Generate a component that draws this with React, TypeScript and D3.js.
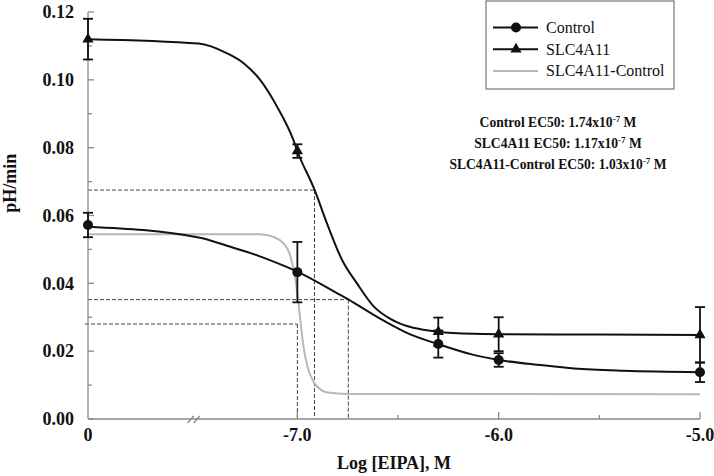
import React from "react";
import * as d3 from "d3";

// ---- data ----
const ZERO_POS = -8.04; // where the "0" concentration sits on the broken log axis
const pointLogs = [ZERO_POS, -7.0, -6.3, -6.0, -5.0];
const controlMean = [0.0572, 0.0433, 0.0221, 0.0174, 0.0138];
const controlErr = [0.0036, 0.0089, 0.004, 0.002, 0.0029];
const slcMean = [0.112, 0.079, 0.0257, 0.025, 0.0248];
const slcErr = [0.006, 0.002, 0.0042, 0.005, 0.0082];

const slcCurveX = [ZERO_POS, -7.49, -7.349, -7.267, -7.184, -7.101, -7.02, -6.999, -6.914, -6.853, -6.778, -6.704, -6.621, -6.538, -6.456, -6.373, -6.302, -6.125, -6.0, -5.5, -5.0];
const slcCurveY = [0.112, 0.1107, 0.1078, 0.1049, 0.0999, 0.0921, 0.0823, 0.0788, 0.0675, 0.0577, 0.0469, 0.040, 0.0332, 0.0295, 0.0274, 0.0263, 0.0257, 0.0251, 0.025, 0.0249, 0.0248];

const ctlCurveX = [ZERO_POS, -7.49, -7.346, -7.232, -7.118, -6.998, -6.787, -6.747, -6.704, -6.621, -6.538, -6.456, -6.302, -6.125, -6.0, -5.79, -5.625, -5.377, -5.0];
const ctlCurveY = [0.0567, 0.0535, 0.051, 0.0489, 0.0464, 0.0434, 0.0366, 0.0353, 0.0337, 0.0307, 0.0279, 0.0254, 0.0221, 0.0189, 0.0174, 0.0159, 0.0149, 0.0142, 0.0138];

const diffCurveX = [ZERO_POS, -7.184, -7.119, -7.069, -7.04, -7.015, -6.998, -6.985, -6.97, -6.95, -6.92, -6.88, -6.85, -6.75, -5.0];
const diffCurveY = [0.0545, 0.0545, 0.0537, 0.0518, 0.049, 0.043, 0.036, 0.029, 0.0215, 0.0155, 0.011, 0.0085, 0.0078, 0.0074, 0.0073];

const ec50Logs = [-6.747, -6.915, -7.0];
const halfMax = [0.0352, 0.0675, 0.028];

const yTicks = [0, 0.02, 0.04, 0.06, 0.08, 0.1, 0.12];
const yMinorTicks = [0.01, 0.03, 0.05, 0.07, 0.09, 0.11];
const xTickLogs = [ZERO_POS, -7, -6, -5];
const xTickLabels = ["0", "-7.0", "-6.0", "-5.0"];
const xMinorLogs = [-6.5, -5.5];

const legendLabels = ["Control", "SLC4A11", "SLC4A11-Control"];
const annotationNames = ["Control", "SLC4A11", "SLC4A11-Control"];
const annotationValues = ["1.74", "1.17", "1.03"];

const FONT = "'Liberation Serif', 'Times New Roman', serif";

export default function App() {
  const x = d3.scaleLinear().domain([ZERO_POS, -5]).range([88, 700]);
  const y = d3.scaleLinear().domain([0, 0.12]).range([419, 12]);

  const line = d3
    .line<[number, number]>()
    .x((d) => x(d[0]))
    .y((d) => y(d[1]))
    .curve(d3.curveMonotoneX);

  const zip = (a: number[], b: number[]) => a.map((v, i) => [v, b[i]] as [number, number]);

  const tri = d3.symbol(d3.symbolTriangle, 55)() as string;
  const axisColor = "#8a8a8a";

  const errBars = (means: number[], errs: number[], key: string) =>
    pointLogs.map((l, i) => {
      const cx = x(l);
      const top = y(means[i] + errs[i]);
      const bot = y(means[i] - errs[i]);
      return (
        <g key={key + i} stroke="#111" strokeWidth={1.8}>
          <line x1={cx} x2={cx} y1={top} y2={bot} />
          <line x1={cx - 5} x2={cx + 5} y1={top} y2={top} />
          <line x1={cx - 5} x2={cx + 5} y1={bot} y2={bot} />
        </g>
      );
    });

  return (
    <svg
      width={714}
      height={476}
      style={{ position: "absolute", left: 0, top: 0, background: "#fff" }}
      fontFamily={FONT}
    >
      <rect x={0} y={0} width={714} height={476} fill="#fff" />

      {/* dashed EC50 guides */}
      {ec50Logs.map((l, i) => (
        <g key={"dash" + i} stroke="#444" strokeWidth={1} strokeDasharray="4,2" fill="none">
          <line x1={i === 2 ? x(ZERO_POS) - 3 : x(ZERO_POS)} x2={x(l)} y1={y(halfMax[i])} y2={y(halfMax[i])} />
          <line x1={x(l)} x2={x(l)} y1={y(halfMax[i])} y2={y(0)} />
        </g>
      ))}

      {/* axes */}
      <g stroke={axisColor} strokeWidth={1.3} fill="none">
        <line x1={x(ZERO_POS)} x2={x(ZERO_POS)} y1={y(0)} y2={y(0.12)} />
        <line x1={x(ZERO_POS)} x2={x(-5)} y1={y(0)} y2={y(0)} />
        {yTicks.map((t) => (
          <line key={"yt" + t} x1={x(ZERO_POS)} x2={x(ZERO_POS) + 6} y1={y(t)} y2={y(t)} />
        ))}
        {yMinorTicks.map((t) => (
          <line key={"ym" + t} x1={x(ZERO_POS)} x2={x(ZERO_POS) + 4} y1={y(t)} y2={y(t)} />
        ))}
        {xTickLogs.slice(1).map((t) => (
          <line key={"xt" + t} x1={x(t)} x2={x(t)} y1={y(0)} y2={y(0) - 7} />
        ))}
        {xMinorLogs.map((t) => (
          <line key={"xm" + t} x1={x(t)} x2={x(t)} y1={y(0)} y2={y(0) - 4} />
        ))}
        {/* axis break marks */}
        {[-7.53, -7.5].map((b) => (
          <line key={"br" + b} x1={x(b) - 3} x2={x(b) + 3} y1={y(0) + 4} y2={y(0) - 3} />
        ))}
      </g>

      {/* y tick labels */}
      {yTicks.map((t) => (
        <text
          key={"yl" + t}
          x={74}
          y={y(t)}
          dy="0.35em"
          textAnchor="end"
          fontSize={18}
          fontWeight="bold"
          fontFamily={FONT}
          fill="#111"
        >
          {t.toFixed(2)}
        </text>
      ))}
      {/* x tick labels */}
      {xTickLogs.map((t, i) => (
        <text key={"xl" + i} x={x(t)} y={441} textAnchor="middle" fontSize={18} fontWeight="bold" fontFamily={FONT} fill="#111">
          {xTickLabels[i]}
        </text>
      ))}

      {/* axis titles */}
      <text x={394} y={469} textAnchor="middle" fontSize={18} fontWeight="bold" fontFamily={FONT} fill="#111">
        Log [EIPA], M
      </text>
      <text
        transform={`translate(16, ${y(0.0695)}) rotate(-90)`}
        textAnchor="middle"
        fontSize={18}
        fontWeight="bold"
        fontFamily={FONT}
        fill="#111"
      >
        pH/min
      </text>

      {/* curves */}
      <path d={line(zip(diffCurveX, diffCurveY)) || ""} fill="none" stroke="#b8b8b8" strokeWidth={2} />
      <path d={line(zip(ctlCurveX, ctlCurveY)) || ""} fill="none" stroke="#111" strokeWidth={2} />
      <path d={line(zip(slcCurveX, slcCurveY)) || ""} fill="none" stroke="#111" strokeWidth={2} />

      {/* error bars */}
      {errBars(controlMean, controlErr, "ce")}
      {errBars(slcMean, slcErr, "se")}

      {/* markers */}
      {pointLogs.map((l, i) => (
        <circle key={"c" + i} cx={x(l)} cy={y(controlMean[i])} r={5} fill="#111" />
      ))}
      {pointLogs.map((l, i) => (
        <path key={"t" + i} d={tri} transform={`translate(${x(l)}, ${y(slcMean[i])})`} fill="#111" />
      ))}

      {/* legend */}
      <rect x={486} y={1} width={188} height={88} fill="#fff" stroke="#777" strokeWidth={1.2} />
      {legendLabels.map((lab, i) => {
        const ly = 27.5 + i * 21.7;
        return (
          <g key={"lg" + i}>
            <line x1={493} x2={538} y1={ly} y2={ly} stroke={i === 2 ? "#b8b8b8" : "#111"} strokeWidth={2} />
            {i === 0 && <circle cx={516} cy={ly} r={5} fill="#111" />}
            {i === 1 && <path d={tri} transform={`translate(516, ${ly})`} fill="#111" />}
            <text x={546} y={ly + 5.5} fontSize={16} fontFamily={FONT} fill="#111">
              {lab}
            </text>
          </g>
        );
      })}

      {/* EC50 annotations */}
      {annotationNames.map((n, i) => (
        <text
          key={"an" + i}
          x={558}
          y={127 + i * 20.8}
          textAnchor="middle"
          fontSize={13.6}
          fontWeight="bold"
          fontFamily={FONT}
          fill="#111"
        >
          {`${n} EC50: ${annotationValues[i]}x10`}
          <tspan dy={-5} fontSize={9}>
            -7
          </tspan>
          <tspan dy={5}> M</tspan>
        </text>
      ))}
    </svg>
  );
}
